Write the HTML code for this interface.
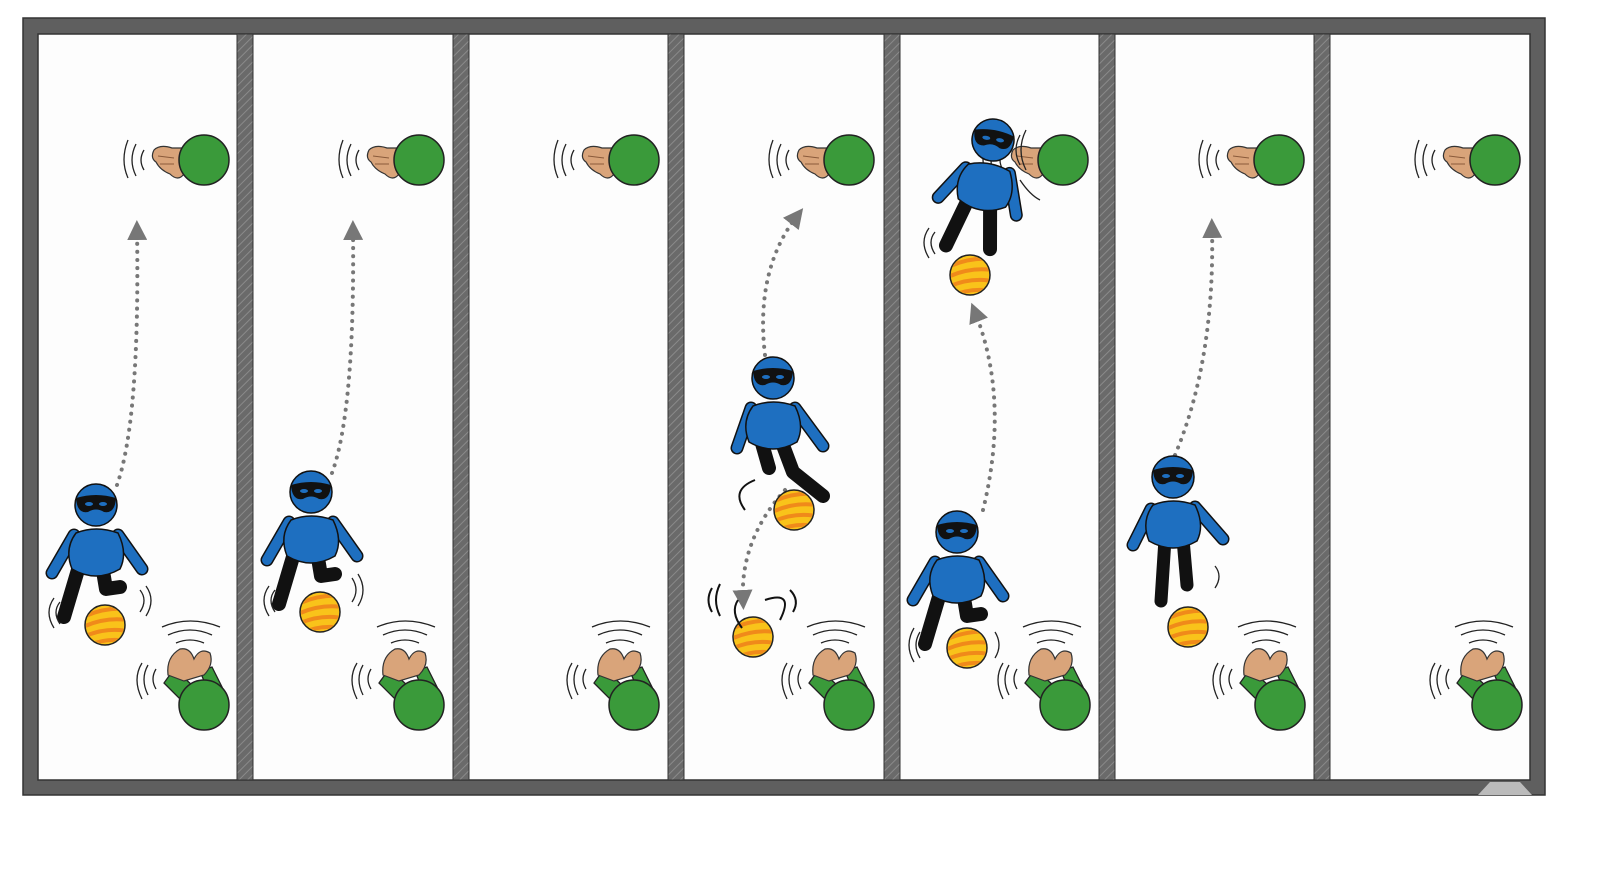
<!DOCTYPE html>
<html><head><meta charset="utf-8"><style>html,body{margin:0;padding:0;background:#fff;}svg{display:block}</style></head>
<body>
<svg width="1600" height="873" viewBox="0 0 1600 873" xmlns="http://www.w3.org/2000/svg">
<defs>
<pattern id="hatch" width="6" height="6" patternUnits="userSpaceOnUse" patternTransform="rotate(45)">
<rect width="6" height="6" fill="#6a6a6a"/><line x1="0" y1="0" x2="0" y2="6" stroke="#8a8a8a" stroke-width="2"/>
</pattern>
<clipPath id="bc"><circle r="19"/></clipPath>
<g id="ball">
<circle r="20" fill="#f9c31a" stroke="#222" stroke-width="1.5"/>
<g clip-path="url(#bc)" stroke="#f08a1a" stroke-width="4" fill="none">
<path d="M-22,-8 Q0,-18 22,-16 M-22,2 Q0,-8 22,-5 M-22,12 Q0,2 22,6 M-20,22 Q0,12 22,16"/>
</g>
</g>
<g id="topP">
<path d="M-50,-10 Q-44,-16 -32,-12 L-22,-12 L-20,14 Q-26,22 -34,14 Q-44,10 -48,2 Q-54,-2 -50,-10Z" fill="#d9a47a" stroke="#333" stroke-width="1.2"/>
<path d="M-46,-4 L-30,-2 M-44,4 L-30,4" stroke="#8a5a3a" stroke-width="1"/>
<circle r="25" fill="#3a9a3a" stroke="#222" stroke-width="1.5"/>
<path d="M-60,-10 Q-66,0 -60,10 M-68,-16 Q-76,0 -68,16 M-76,-20 Q-84,0 -76,18" stroke="#222" stroke-width="1.3" fill="none"/>
</g>
<g id="botP">
<path d="M-12,-20 L-30,-36 L-40,-22 L-22,-4Z" fill="#3a9a3a" stroke="#222" stroke-width="1.3"/>
<path d="M4,-14 L-4,-34 L8,-38 L18,-18Z" fill="#3a9a3a" stroke="#222" stroke-width="1.3"/>
<path d="M-36,-30 Q-38,-48 -24,-56 Q-14,-58 -10,-46 Q-4,-58 6,-52 Q10,-40 0,-30 L-20,-24Z" fill="#d9a47a" stroke="#333" stroke-width="1.2"/>
<circle cx="0" cy="0" r="25" fill="#3a9a3a" stroke="#222" stroke-width="1.5"/>
<path d="M-28,-62 Q-14,-68 0,-62 M-36,-70 Q-14,-80 8,-70 M-42,-78 Q-14,-90 16,-78" stroke="#222" stroke-width="1.3" fill="none"/>
<path d="M-48,-36 Q-54,-26 -48,-16 M-56,-40 Q-64,-26 -56,-10 M-62,-42 Q-72,-26 -62,-6" stroke="#222" stroke-width="1.3" fill="none"/>
</g>
<g id="mask"><circle r="21" fill="#1e6fc0" stroke="#111" stroke-width="1.5"/>
<path d="M-20,-7 Q0,-13 20,-7 Q19,9 8,7 Q0,2 -8,7 Q-19,9 -20,-7Z" fill="#111"/>
<ellipse cx="-7" cy="-1" rx="4" ry="2" fill="#1e6fc0"/><ellipse cx="7" cy="-1" rx="4" ry="2" fill="#1e6fc0"/></g>
<g id="fig">
<path d="M-16,58 L-32,112" stroke="#111" stroke-width="14" stroke-linecap="round"/>
<path d="M6,60 L10,84 L24,82" stroke="#111" stroke-width="14" stroke-linecap="round" stroke-linejoin="round" fill="none"/>
<path d="M-22,30 L-44,68" stroke="#111" stroke-width="13" stroke-linecap="round"/>
<path d="M-22,30 L-44,68" stroke="#1e6fc0" stroke-width="10" stroke-linecap="round"/>
<path d="M22,30 L46,64" stroke="#111" stroke-width="13" stroke-linecap="round"/>
<path d="M22,30 L46,64" stroke="#1e6fc0" stroke-width="10" stroke-linecap="round"/>
<path d="M-20,28 Q0,20 22,28 Q32,48 24,64 Q0,78 -24,64 Q-32,44 -20,28Z" fill="#1e6fc0" stroke="#111" stroke-width="1.5"/>
<use href="#mask"/>
</g>
<marker id="ah" viewBox="0 0 10 10" refX="5" refY="5" markerWidth="5" markerHeight="5" orient="auto"><path d="M0,0 L10,5 L0,10Z" fill="#777"/></marker>
</defs>
<rect x="0" y="0" width="1600" height="873" fill="#fff"/>
<rect x="30" y="26" width="1508" height="762" fill="#fdfdfd" stroke="#5f5f5f" stroke-width="15"/>
<rect x="23" y="18" width="1522" height="777" fill="none" stroke="#333" stroke-width="1.5"/>
<rect x="38" y="34" width="1492" height="746" fill="none" stroke="#333" stroke-width="1.5"/>
<g stroke="#333" stroke-width="1">
<rect x="237" y="34" width="16" height="746" fill="url(#hatch)"/>
<rect x="453" y="34" width="16" height="746" fill="url(#hatch)"/>
<rect x="668" y="34" width="16" height="746" fill="url(#hatch)"/>
<rect x="884" y="34" width="16" height="746" fill="url(#hatch)"/>
<rect x="1099" y="34" width="16" height="746" fill="url(#hatch)"/>
<rect x="1314" y="34" width="16" height="746" fill="url(#hatch)"/>
</g>
<use href="#topP" x="204" y="160"/><use href="#topP" x="419" y="160"/><use href="#topP" x="634" y="160"/>
<use href="#topP" x="849" y="160"/><use href="#topP" x="1063" y="160"/><use href="#topP" x="1279" y="160"/><use href="#topP" x="1495" y="160"/>
<use href="#botP" x="204" y="705"/><use href="#botP" x="419" y="705"/><use href="#botP" x="634" y="705"/>
<use href="#botP" x="849" y="705"/><use href="#botP" x="1065" y="705"/><use href="#botP" x="1280" y="705"/><use href="#botP" x="1497" y="705"/>
<g stroke="#777" stroke-width="4" stroke-dasharray="0.1 8" stroke-linecap="round" fill="none" marker-end="url(#ah)">
<path d="M117,485 Q140,420 137,230"/>
<path d="M332,473 Q355,410 353,230"/>
<path d="M765,355 Q755,270 797,216"/>
<path d="M785,490 Q740,540 743,600"/>
<path d="M983,510 Q1010,400 975,312"/>
<path d="M1175,455 Q1215,360 1212,228"/>
</g>
<use href="#fig" x="96" y="505"/><use href="#ball" x="105" y="625"/>
<use href="#fig" x="311" y="492"/><use href="#ball" x="320" y="612"/>
<g transform="translate(773,378)">
<path d="M-12,62 L-4,90" stroke="#111" stroke-width="14" stroke-linecap="round"/>
<path d="M8,62 L20,94 L50,118" stroke="#111" stroke-width="14" stroke-linecap="round" stroke-linejoin="round" fill="none"/>
<path d="M-22,30 L-36,70" stroke="#111" stroke-width="13" stroke-linecap="round"/>
<path d="M-22,30 L-36,70" stroke="#1e6fc0" stroke-width="10" stroke-linecap="round"/>
<path d="M22,30 L50,68" stroke="#111" stroke-width="13" stroke-linecap="round"/>
<path d="M22,30 L50,68" stroke="#1e6fc0" stroke-width="10" stroke-linecap="round"/>
<path d="M-20,28 Q0,20 22,28 Q32,48 24,64 Q0,78 -24,64 Q-32,44 -20,28Z" fill="#1e6fc0" stroke="#111" stroke-width="1.5"/>
<use href="#mask"/>
</g>
<use href="#ball" x="794" y="510"/><use href="#ball" x="753" y="637"/>
<g stroke="#111" stroke-width="2" fill="none">
<path d="M755,480 Q730,490 745,510"/><path d="M738,600 Q730,612 742,628"/><path d="M765,600 Q795,590 780,620"/>
<path d="M790,590 Q800,600 793,612"/><path d="M712,588 Q705,600 712,612"/><path d="M720,584 Q712,600 720,616"/>
</g>
<g transform="translate(993,140) rotate(10)">
<path d="M-14,62 L-28,112" stroke="#111" stroke-width="14" stroke-linecap="round"/>
<path d="M8,62 L16,108" stroke="#111" stroke-width="14" stroke-linecap="round"/>
<path d="M-22,32 L-44,66" stroke="#111" stroke-width="13" stroke-linecap="round"/>
<path d="M-22,32 L-44,66" stroke="#1e6fc0" stroke-width="10" stroke-linecap="round"/>
<path d="M22,30 L36,70" stroke="#111" stroke-width="13" stroke-linecap="round"/>
<path d="M22,30 L36,70" stroke="#1e6fc0" stroke-width="10" stroke-linecap="round"/>
<path d="M-20,28 Q0,20 22,28 Q32,48 24,64 Q0,78 -24,64 Q-32,44 -20,28Z" fill="#1e6fc0" stroke="#111" stroke-width="1.5"/>
<use href="#mask"/>
</g>
<use href="#ball" x="970" y="275"/>
<use href="#fig" x="957" y="532"/><use href="#ball" x="967" y="648"/>
<g transform="translate(1173,477)">
<path d="M-8,62 L-12,124" stroke="#111" stroke-width="13" stroke-linecap="round"/>
<path d="M10,62 L14,108" stroke="#111" stroke-width="13" stroke-linecap="round"/>
<path d="M-22,32 L-40,68" stroke="#111" stroke-width="13" stroke-linecap="round"/>
<path d="M-22,32 L-40,68" stroke="#1e6fc0" stroke-width="10" stroke-linecap="round"/>
<path d="M22,30 L50,62" stroke="#111" stroke-width="13" stroke-linecap="round"/>
<path d="M22,30 L50,62" stroke="#1e6fc0" stroke-width="10" stroke-linecap="round"/>
<path d="M-20,28 Q0,20 22,28 Q32,48 24,64 Q0,78 -24,64 Q-32,44 -20,28Z" fill="#1e6fc0" stroke="#111" stroke-width="1.5"/>
<use href="#mask"/>
</g>
<use href="#ball" x="1188" y="627"/>
<g stroke="#222" stroke-width="1.3" fill="none">
<path d="M60,602 Q52,612 60,624 M54,598 Q44,612 54,628"/><path d="M140,590 Q148,600 140,612 M146,586 Q156,600 146,616"/>
<path d="M275,590 Q267,600 275,612 M269,586 Q259,600 269,616"/><path d="M352,578 Q360,590 352,602 M358,574 Q368,590 358,606"/>
<path d="M920,632 Q912,645 920,658 M914,628 Q904,645 914,662"/><path d="M995,632 Q1003,645 995,658"/>
<path d="M1215,566 Q1223,576 1215,588"/><path d="M935,232 Q927,242 935,254 M929,228 Q919,242 929,258"/>
<path d="M1020,135 Q1012,150 1020,165 M1026,130 Q1016,150 1026,170 M1020,180 Q1030,195 1040,200"/>
</g>
<path d="M1478,795 L1490,782 L1520,782 L1532,795Z" fill="#bbb"/>
</svg>
</body></html>
